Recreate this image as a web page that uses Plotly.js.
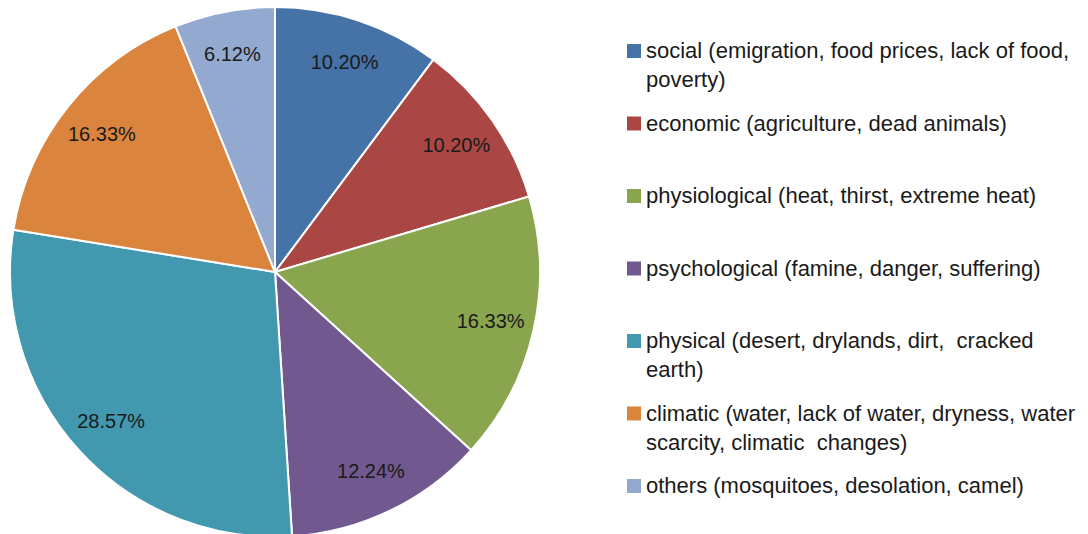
<!DOCTYPE html>
<html>
<head>
<meta charset="utf-8">
<script src="https://cdn.plot.ly/plotly-3.0.1.min.js"></script>
<style>html,body{margin:0;padding:0;overflow:hidden;background:#fff}</style>
</head>
<body>
<div id="chart" style="width:1088px;height:544px"></div>
<script>
const categories = [
  "social (emigration, food prices, lack of food,<br>poverty)",
  "economic (agriculture, dead animals)",
  "physiological (heat, thirst, extreme heat)",
  "psychological (famine, danger, suffering)",
  "physical (desert, drylands, dirt,  cracked<br>earth)",
  "climatic (water, lack of water, dryness, water<br>scarcity, climatic  changes)",
  "others (mosquitoes, desolation, camel)"
];
const percentages = [10.20, 10.20, 16.33, 12.24, 28.57, 16.33, 6.12];
const percentLabels = ["10.20%", "10.20%", "16.33%", "12.24%", "28.57%", "16.33%", "6.12%"];
const colors = ["#4572A7", "#AA4643", "#89A54E", "#71588F", "#4198AF", "#DB843D", "#93A9CF"];

const W = 1088, H = 544;
const FONT = "Liberation Sans, Arial, sans-serif";
const pieDomain = {x: [10 / W, 540 / W], y: [0, 1]};

// full pie (no text)
const basePie = {
  type: "pie",
  labels: categories,
  values: percentages,
  textinfo: "none",
  sort: false,
  direction: "clockwise",
  rotation: 0,
  marker: {colors: colors, line: {color: "#ffffff", width: 2}},
  domain: pieDomain,
  showlegend: false,
  hoverinfo: "none"
};

// invisible ring carrying the percentage labels (places labels near the outer part)
const labelRing = {
  type: "pie",
  labels: categories,
  values: percentages,
  text: percentLabels,
  textinfo: "text",
  textposition: "inside",
  insidetextorientation: "horizontal",
  hole: 0.67,
  sort: false,
  direction: "clockwise",
  rotation: 0,
  marker: {colors: colors.map(() => "rgba(0,0,0,0)"), line: {width: 0}},
  textfont: {family: FONT, size: 20, color: "#1a1a1a"},
  domain: pieDomain,
  showlegend: false,
  hoverinfo: "none"
};

// legend, drawn as layout text + colour keys
const legendTop = 51, legendStep = 72.5;
const annotations = [], shapes = [];
categories.forEach((c, i) => {
  const cy = legendTop + i * legendStep;
  annotations.push({
    xref: "paper", yref: "paper",
    x: 644 / W, y: 1 - (cy - 15) / H,
    xanchor: "left", yanchor: "top", align: "left",
    text: c, showarrow: false,
    font: {family: FONT, size: 22, color: "#1a1a1a"}
  });
  shapes.push({
    type: "rect", xref: "paper", yref: "paper",
    x0: 627 / W, x1: 641 / W,
    y0: 1 - (cy - 7) / H, y1: 1 - (cy + 7) / H,
    fillcolor: colors[i], line: {width: 0}
  });
});

const layout = {
  width: W,
  height: H,
  margin: {l: 0, r: 0, t: 0, b: 0},
  paper_bgcolor: "#ffffff",
  showlegend: false,
  annotations: annotations,
  shapes: shapes
};

Plotly.newPlot("chart", [basePie, labelRing], layout, {displayModeBar: false, staticPlot: true});
</script>
</body>
</html>
